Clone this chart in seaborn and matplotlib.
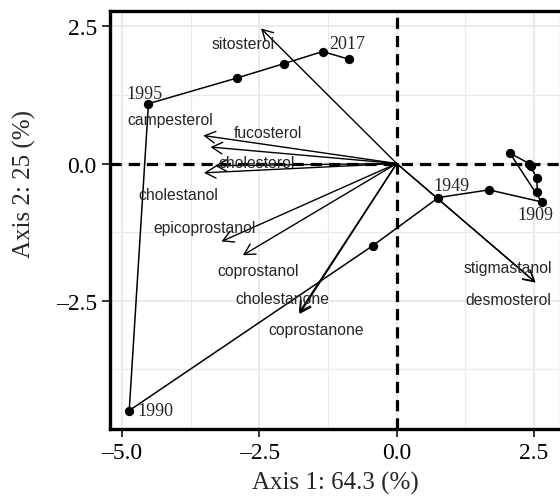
import numpy as np
import pandas as pd
import matplotlib
matplotlib.use("Agg")
import matplotlib.pyplot as plt
import seaborn as sns

# ---- sample scores (path in drawing order) ----
sample_x = [2.56, 2.55, 2.44, 2.41, 2.06, 2.64, 1.68, 0.76, -0.44, -4.87, -4.52, -2.90, -2.05, -1.35, -0.87]
sample_y = [-0.51, -0.27, -0.05, 0.00, 0.19, -0.70, -0.48, -0.62, -1.50, -4.50, 1.09, 1.56, 1.82, 2.04, 1.90]
sample_lab = ["", "", "", "", "", "1909", "", "1949", "", "1990", "1995", "", "", "", "2017"]
# label positions for the year labels (repelled)
year_lx = {"1909": 2.52, "1949": 1.00, "1990": -4.40, "1995": -4.59, "2017": -0.91}
year_ly = {"1909": -0.92, "1949": -0.40, "1990": -4.50, "1995": 1.28, "2017": 2.19}

# ---- variable loadings (arrow tips) ----
var_names = ["sitosterol", "campesterol", "fucosterol", "cholesterol", "cholestanol",
             "epicoprostanol", "coprostanol", "cholestanone", "coprostanone",
             "stigmastanol", "desmosterol"]
var_x = [-2.47, -3.52, -3.39, -3.31, -3.51, -3.19, -2.80, -1.78, -1.77, 2.52, 2.53]
var_y = [2.46, 0.51, 0.30, -0.04, -0.17, -1.42, -1.67, -2.72, -2.74, -2.16, -2.17]
# label positions (repelled)
var_lx = [-2.79, -4.12, -2.34, -2.55, -3.98, -3.49, -2.52, -2.08, -1.47, 2.02, 2.04]
var_ly = [2.18, 0.81, 0.57, 0.01, -0.56, -1.16, -1.95, -2.46, -3.03, -1.89, -2.47]

x_ticks = [-5.0, -2.5, 0.0, 2.5]
y_ticks = [-2.5, 0.0, 2.5]
x_title = "Axis 1: 64.3 (%)"
y_title = "Axis 2: 25 (%)"

sns.set_theme(style="white")
plt.rcParams["font.family"] = ["Liberation Serif", "DejaVu Serif"]

fig = plt.figure(figsize=(5.6, 5.02), dpi=100)
ax = fig.add_axes([110 / 560, 72 / 502, 450 / 560, 418 / 502])

df = pd.DataFrame({"x": sample_x, "y": sample_y, "lab": sample_lab})

# grid
ax.set_xlim(-5.22, 2.973)
ax.set_ylim(-4.836, 2.778)
ax.set_xticks(x_ticks)
ax.set_yticks(y_ticks)
ax.set_xticks([-3.75, -1.25, 1.25], minor=True)
ax.set_yticks([-3.75, -1.25, 1.25], minor=True)
ax.grid(True, which="major", color="#EBEBEB", lw=1.5, zorder=0)
ax.grid(True, which="minor", color="#EBEBEB", lw=0.9, zorder=0)
ax.set_axisbelow(True)

# reference lines
ax.axhline(0, color="black", lw=2.3, ls=(0, (3.5, 2.2)), zorder=1)
ax.axvline(0, color="black", lw=2.3, ls=(0, (3.5, 2.2)), zorder=1)

# sample path & points
sns.lineplot(data=df, x="x", y="y", sort=False, estimator=None, color="black",
             lw=1.1, ax=ax, zorder=3)
sns.scatterplot(data=df, x="x", y="y", color="black", s=45, edgecolor="black",
                linewidth=0, ax=ax, zorder=4)

for lab in sample_lab:
    if lab:
        ax.text(year_lx[lab], year_ly[lab], lab, fontsize=13, ha="center", va="center",
                family=["Liberation Serif"], zorder=5)

# variable arrows
for vx, vy in zip(var_x, var_y):
    ax.annotate("", xy=(vx, vy), xytext=(0, 0),
                arrowprops=dict(arrowstyle="->,head_length=0.75,head_width=0.42",
                                mutation_scale=10, lw=1.0, color="black",
                                shrinkA=0, shrinkB=0), zorder=3)
for nm, lx, ly in zip(var_names, var_lx, var_ly):
    ax.text(lx, ly, nm, fontsize=11.3, ha="center", va="center",
            family=["Liberation Sans"], zorder=5)

# frame
for side in ["left", "top", "bottom"]:
    ax.spines[side].set_color("black")
    ax.spines[side].set_linewidth(2.4)
ax.spines["right"].set_color("#888888")
ax.spines["right"].set_linewidth(0.8)

ax.tick_params(axis="both", which="major", direction="out", length=5.5, width=1.4,
               color="#333333", labelsize=17, pad=4, labelcolor="black",
               bottom=True, left=True)
ax.tick_params(which="minor", length=0)
ax.set_xticklabels([f"{v:.1f}".replace("-", "\u2013") for v in x_ticks])
ax.set_yticklabels([f"{v:.1f}".replace("-", "\u2013") for v in y_ticks])

ax.set_xlabel(x_title, fontsize=18)
ax.set_ylabel(y_title, fontsize=18)
ax.xaxis.set_label_coords(0.5, -0.129)
ax.yaxis.set_label_coords(-0.189, 0.589)
ax.xaxis.label.set_va("center")
ax.yaxis.label.set_va("center")

fig.savefig("out.png", dpi=100)
